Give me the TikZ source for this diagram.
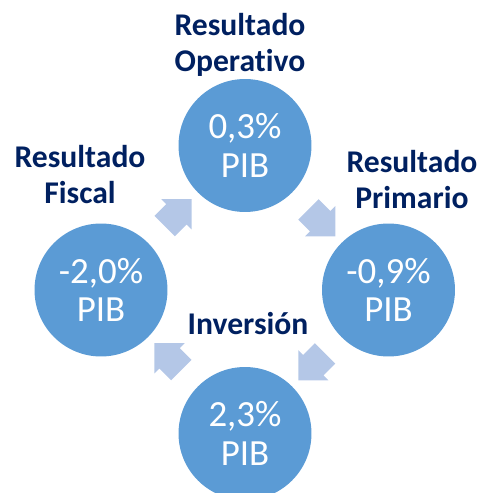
\documentclass[tikz,border=0pt]{standalone}
\usepackage{fontspec}
\setmainfont{Carlito}[Ligatures=CommonOff]
\usetikzlibrary{shapes.arrows,calc}
\definecolor{circblue}{RGB}{91,155,213}
\definecolor{arrowblue}{RGB}{180,199,231}
\definecolor{navy}{RGB}{0,32,96}

\begin{document}
\begin{tikzpicture}
		[x=0.02cm,y=0.02cm,
		place1/.style={circle,fill=circblue,inner sep=0pt,minimum size=2.66cm,
text=white,align=center,font=\fontsize{21}{22}\selectfont},
		textstyle/.style={text=navy,align=center,anchor=base,
font=\fontsize{18}{21}\selectfont\bfseries},
		arrowstyle/.style={single arrow,fill=arrowblue,inner xsep=0pt,inner ysep=0.28cm,
minimum height=0.76cm,single arrow head extend=0.14cm,single arrow tip angle=90}]
		\useasboundingbox (0,0) rectangle (490,493);
		\node at (245, 347.5) (1) [place1] {0,3\%\\PIB};
		\node at (388.5, 203) (2) [place1] {-0,9\%\\PIB};
		\node at (245, 59.5) (3) [place1] {2,3\%\\PIB};
		\node at (101, 203) (4) [place1] {-2,0\%\\PIB};
		\node at (240, 421) (l1) [textstyle] {Resultado\\Operativo};
		\node at (412, 284) (l2) [textstyle] {Resultado\\Primario};
		\node at (248, 158) (l3) [textstyle] {Inversión};
		\node at (80, 289) (l4) [textstyle] {Resultado\\Fiscal};
		\node at ($(4)!0.5!(1)$) (a1) [arrowstyle,rotate=45] {};
		\node at ($(1)!0.5!(2)$) (a2) [arrowstyle,rotate=-45] {};
		\node at ($(2)!0.5!(3)$) (a3) [arrowstyle,rotate=-135] {};
		\node at ($(3)!0.5!(4)$) (a4) [arrowstyle,rotate=135] {};
	\end{tikzpicture}
\end{document}
